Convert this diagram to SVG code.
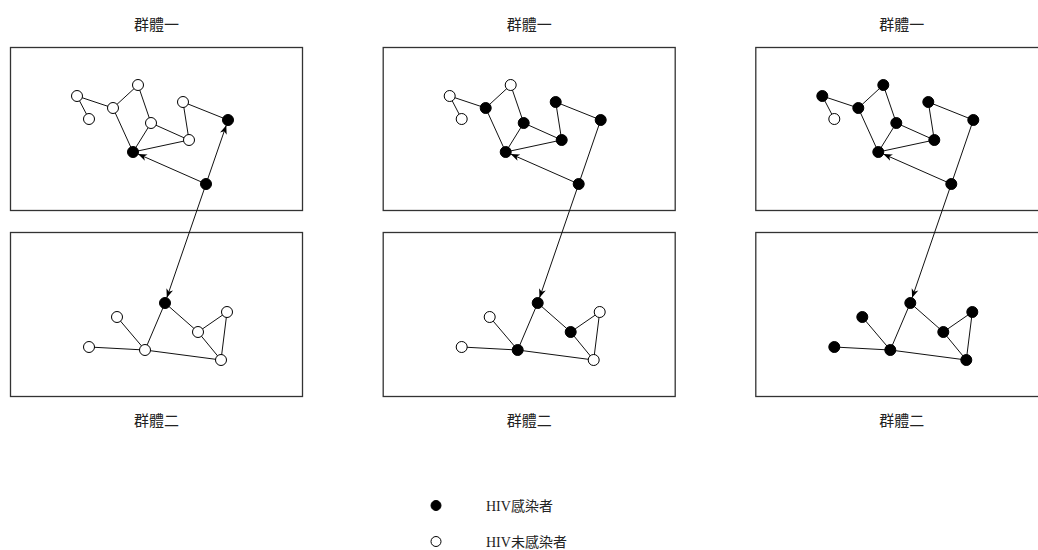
<svg xmlns="http://www.w3.org/2000/svg" width="1038" height="550" viewBox="0 0 1038 550">
<style>
.frame{fill:none;stroke:#333;stroke-width:1.3}
.edge{stroke:#111;stroke-width:1;fill:none}
.arr{stroke:#111;stroke-width:1;fill:none;marker-end:url(#ah)}
.on{fill:#000;stroke:#000;stroke-width:1}
.off{fill:#fff;stroke:#000;stroke-width:1}
.t{font-family:"Liberation Serif","Noto Sans CJK TC",serif;font-size:15px;fill:#222}
.lt{font-family:"Liberation Serif","Noto Sans CJK TC",serif;font-size:14px;fill:#222}
</style>
<defs>
<marker id="ah" markerUnits="userSpaceOnUse" markerWidth="10" markerHeight="8" refX="9" refY="4" orient="auto">
<path d="M0,0.5 L9,4 L0,7.5 L2.5,4 z" fill="#000"/>
</marker>
</defs>
<rect width="1038" height="550" fill="#fff"/>

<!-- Panel 1 -->
<g id="panel1">
<rect class="frame" x="10.5" y="47.5" width="292" height="163"/>
<rect class="frame" x="10.5" y="232.5" width="292" height="164"/>
<text class="t" x="156.5" y="30" text-anchor="middle">群體一</text>
<text class="t" x="156.5" y="426" text-anchor="middle">群體二</text>
<g id="p1-connectors">
<line class="edge" x1="77" y1="96" x2="89" y2="119"/>
<line class="edge" x1="77" y1="96" x2="113" y2="108"/>
<line class="edge" x1="113" y1="108" x2="138" y2="85"/>
<line class="edge" x1="113" y1="108" x2="133" y2="152"/>
<line class="edge" x1="138" y1="85" x2="151" y2="123"/>
<line class="edge" x1="151" y1="123" x2="133" y2="152"/>
<line class="edge" x1="151" y1="123" x2="189" y2="140"/>
<line class="edge" x1="189" y1="140" x2="133" y2="152"/>
<line class="edge" x1="183" y1="102" x2="189" y2="140"/>
<line class="edge" x1="183" y1="102" x2="228" y2="120"/>
<line class="arr" x1="206" y1="184" x2="138" y2="154"/>
<line class="arr" x1="206" y1="184" x2="226.3" y2="125.2"/>
<line class="arr" x1="206" y1="184" x2="166.8" y2="297.8"/>
<line class="edge" x1="165" y1="303" x2="145" y2="350"/>
<line class="edge" x1="165" y1="303" x2="198" y2="332"/>
<line class="edge" x1="117" y1="317" x2="145" y2="350"/>
<line class="edge" x1="89" y1="347" x2="145" y2="350"/>
<line class="edge" x1="145" y1="350" x2="221" y2="360"/>
<line class="edge" x1="198" y1="332" x2="227" y2="312"/>
<line class="edge" x1="198" y1="332" x2="221" y2="360"/>
<line class="edge" x1="227" y1="312" x2="221" y2="360"/>
</g>
<g id="p1-A"><circle class="off" cx="77" cy="96" r="5.5"/></g>
<g id="p1-B"><circle class="off" cx="89" cy="119" r="5.5"/></g>
<g id="p1-C"><circle class="off" cx="113" cy="108" r="5.5"/></g>
<g id="p1-D"><circle class="off" cx="138" cy="85" r="5.5"/></g>
<g id="p1-E"><circle class="off" cx="151" cy="123" r="5.5"/></g>
<g id="p1-F"><circle class="off" cx="183" cy="102" r="5.5"/></g>
<g id="p1-G"><circle class="on" cx="228" cy="120" r="5.5"/></g>
<g id="p1-H"><circle class="off" cx="189" cy="140" r="5.5"/></g>
<g id="p1-I"><circle class="on" cx="133" cy="152" r="5.5"/></g>
<g id="p1-J"><circle class="on" cx="206" cy="184" r="5.5"/></g>
<g id="p1-K"><circle class="on" cx="165" cy="303" r="5.5"/></g>
<g id="p1-L"><circle class="off" cx="117" cy="317" r="5.5"/></g>
<g id="p1-M"><circle class="off" cx="89" cy="347" r="5.5"/></g>
<g id="p1-N"><circle class="off" cx="145" cy="350" r="5.5"/></g>
<g id="p1-O"><circle class="off" cx="198" cy="332" r="5.5"/></g>
<g id="p1-P"><circle class="off" cx="227" cy="312" r="5.5"/></g>
<g id="p1-Q"><circle class="off" cx="221" cy="360" r="5.5"/></g>
</g>

<!-- Panel 2 -->
<g id="panel2" transform="translate(372.7,0)">
<rect class="frame" x="10.5" y="47.5" width="292" height="163"/>
<rect class="frame" x="10.5" y="232.5" width="292" height="164"/>
<text class="t" x="156.5" y="30" text-anchor="middle">群體一</text>
<text class="t" x="156.5" y="426" text-anchor="middle">群體二</text>
<g id="p2-connectors">
<line class="edge" x1="77" y1="96" x2="89" y2="119"/>
<line class="edge" x1="77" y1="96" x2="113" y2="108"/>
<line class="edge" x1="113" y1="108" x2="138" y2="85"/>
<line class="edge" x1="113" y1="108" x2="133" y2="152"/>
<line class="edge" x1="138" y1="85" x2="151" y2="123"/>
<line class="edge" x1="151" y1="123" x2="133" y2="152"/>
<line class="edge" x1="151" y1="123" x2="189" y2="140"/>
<line class="edge" x1="189" y1="140" x2="133" y2="152"/>
<line class="edge" x1="183" y1="102" x2="189" y2="140"/>
<line class="edge" x1="183" y1="102" x2="228" y2="120"/>
<line class="arr" x1="206" y1="184" x2="138" y2="154"/>
<line class="edge" x1="206" y1="184" x2="228" y2="120"/>
<line class="arr" x1="206" y1="184" x2="166.8" y2="297.8"/>
<line class="edge" x1="165" y1="303" x2="145" y2="350"/>
<line class="edge" x1="165" y1="303" x2="198" y2="332"/>
<line class="edge" x1="117" y1="317" x2="145" y2="350"/>
<line class="edge" x1="89" y1="347" x2="145" y2="350"/>
<line class="edge" x1="145" y1="350" x2="221" y2="360"/>
<line class="edge" x1="198" y1="332" x2="227" y2="312"/>
<line class="edge" x1="198" y1="332" x2="221" y2="360"/>
<line class="edge" x1="227" y1="312" x2="221" y2="360"/>
</g>
<g id="p2-A"><circle class="off" cx="77" cy="96" r="5.5"/></g>
<g id="p2-B"><circle class="off" cx="89" cy="119" r="5.5"/></g>
<g id="p2-C"><circle class="on" cx="113" cy="108" r="5.5"/></g>
<g id="p2-D"><circle class="off" cx="138" cy="85" r="5.5"/></g>
<g id="p2-E"><circle class="on" cx="151" cy="123" r="5.5"/></g>
<g id="p2-F"><circle class="on" cx="183" cy="102" r="5.5"/></g>
<g id="p2-G"><circle class="on" cx="228" cy="120" r="5.5"/></g>
<g id="p2-H"><circle class="on" cx="189" cy="140" r="5.5"/></g>
<g id="p2-I"><circle class="on" cx="133" cy="152" r="5.5"/></g>
<g id="p2-J"><circle class="on" cx="206" cy="184" r="5.5"/></g>
<g id="p2-K"><circle class="on" cx="165" cy="303" r="5.5"/></g>
<g id="p2-L"><circle class="off" cx="117" cy="317" r="5.5"/></g>
<g id="p2-M"><circle class="off" cx="89" cy="347" r="5.5"/></g>
<g id="p2-N"><circle class="on" cx="145" cy="350" r="5.5"/></g>
<g id="p2-O"><circle class="on" cx="198" cy="332" r="5.5"/></g>
<g id="p2-P"><circle class="off" cx="227" cy="312" r="5.5"/></g>
<g id="p2-Q"><circle class="off" cx="221" cy="360" r="5.5"/></g>
</g>

<!-- Panel 3 -->
<g id="panel3" transform="translate(745.3,0)">
<rect class="frame" x="10.5" y="47.5" width="292" height="163"/>
<rect class="frame" x="10.5" y="232.5" width="292" height="164"/>
<text class="t" x="156.5" y="30" text-anchor="middle">群體一</text>
<text class="t" x="156.5" y="426" text-anchor="middle">群體二</text>
<g id="p3-connectors">
<line class="edge" x1="77" y1="96" x2="89" y2="119"/>
<line class="edge" x1="77" y1="96" x2="113" y2="108"/>
<line class="edge" x1="113" y1="108" x2="138" y2="85"/>
<line class="edge" x1="113" y1="108" x2="133" y2="152"/>
<line class="edge" x1="138" y1="85" x2="151" y2="123"/>
<line class="edge" x1="151" y1="123" x2="133" y2="152"/>
<line class="edge" x1="151" y1="123" x2="189" y2="140"/>
<line class="edge" x1="189" y1="140" x2="133" y2="152"/>
<line class="edge" x1="183" y1="102" x2="189" y2="140"/>
<line class="edge" x1="183" y1="102" x2="228" y2="120"/>
<line class="arr" x1="206" y1="184" x2="138" y2="154"/>
<line class="edge" x1="206" y1="184" x2="228" y2="120"/>
<line class="arr" x1="206" y1="184" x2="166.8" y2="297.8"/>
<line class="edge" x1="165" y1="303" x2="145" y2="350"/>
<line class="edge" x1="165" y1="303" x2="198" y2="332"/>
<line class="edge" x1="117" y1="317" x2="145" y2="350"/>
<line class="edge" x1="89" y1="347" x2="145" y2="350"/>
<line class="edge" x1="145" y1="350" x2="221" y2="360"/>
<line class="edge" x1="198" y1="332" x2="227" y2="312"/>
<line class="edge" x1="198" y1="332" x2="221" y2="360"/>
<line class="edge" x1="227" y1="312" x2="221" y2="360"/>
</g>
<g id="p3-A"><circle class="on" cx="77" cy="96" r="5.5"/></g>
<g id="p3-B"><circle class="off" cx="89" cy="119" r="5.5"/></g>
<g id="p3-C"><circle class="on" cx="113" cy="108" r="5.5"/></g>
<g id="p3-D"><circle class="on" cx="138" cy="85" r="5.5"/></g>
<g id="p3-E"><circle class="on" cx="151" cy="123" r="5.5"/></g>
<g id="p3-F"><circle class="on" cx="183" cy="102" r="5.5"/></g>
<g id="p3-G"><circle class="on" cx="228" cy="120" r="5.5"/></g>
<g id="p3-H"><circle class="on" cx="189" cy="140" r="5.5"/></g>
<g id="p3-I"><circle class="on" cx="133" cy="152" r="5.5"/></g>
<g id="p3-J"><circle class="on" cx="206" cy="184" r="5.5"/></g>
<g id="p3-K"><circle class="on" cx="165" cy="303" r="5.5"/></g>
<g id="p3-L"><circle class="on" cx="117" cy="317" r="5.5"/></g>
<g id="p3-M"><circle class="on" cx="89" cy="347" r="5.5"/></g>
<g id="p3-N"><circle class="on" cx="145" cy="350" r="5.5"/></g>
<g id="p3-O"><circle class="on" cx="198" cy="332" r="5.5"/></g>
<g id="p3-P"><circle class="on" cx="227" cy="312" r="5.5"/></g>
<g id="p3-Q"><circle class="on" cx="221" cy="360" r="5.5"/></g>
</g>

<!-- Legend -->
<g id="legend-infected">
<circle class="on" cx="436" cy="505.5" r="5"/>
<text class="lt" x="486" y="511">HIV感染者</text>
</g>
<g id="legend-uninfected">
<circle class="off" cx="436" cy="541.5" r="5"/>
<text class="lt" x="486" y="547">HIV未感染者</text>
</g>
</svg>
